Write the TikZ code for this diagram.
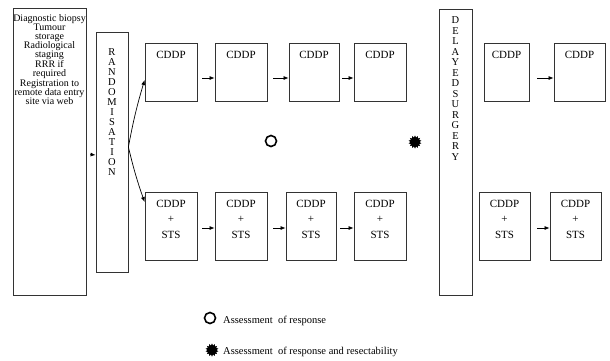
\documentclass[tikz,border=0pt]{standalone}
\usepackage{fontspec}
\setmainfont{Liberation Serif}
\usetikzlibrary{shapes.geometric, arrows.meta}

\begin{document}
\begin{tikzpicture}[x=1pt, y=-1pt]
		\tikzstyle {stage box} = [draw=black!80, line width=0.8pt, inner sep=0pt]
		\tikzstyle {box text} = [anchor=north, align=center, inner sep=0pt, font=\fontsize{11}{15.5}\selectfont]
		\tikzstyle {letter text} = [anchor=north, align=center, inner sep=0pt, font=\fontsize{10.5}{10.5}\selectfont]
		\tikzstyle {step arrow} = [-{Latex[length=5pt, width=4pt]}, line width=0.7pt]
		\tikzstyle {ring} = [circle, draw, line width=1.6pt, inner sep=0pt, minimum size=11pt]
		\tikzstyle {burst} = [star, star points=14, star point ratio=1.4, fill=black, inner sep=0pt, minimum size=13pt]

		\useasboundingbox (0,0) rectangle (610,360);

		% entry and randomisation
		\node[stage box, minimum width=73pt, minimum height=287pt,
			label={[anchor=north, align=center, inner sep=0pt, yshift=-6.5pt, font=\fontsize{10}{9.1}\selectfont]north:{Diagnostic biopsy\\Tumour\\storage\\Radiological\\staging\\RRR\ if\\required\\Registration to\\remote data entry\\site via web}}]
			(entry) at (49.5,151.5) {};
		\node[stage box, minimum width=32pt, minimum height=240pt,
			label={[letter text, yshift=-17pt, font=\fontsize{10.5}{10}\selectfont]north:{R\\A\\N\\D\\O\\M\\I\\S\\A\\T\\I\\O\\N}}]
			(rand) at (112,152) {};
		\node[stage box, minimum width=33pt, minimum height=286pt,
			label={[letter text, yshift=-8pt]north:{D\\E\\L\\A\\Y\\E\\D\\S\\U\\R\\G\\E\\R\\Y}}]
			(delay) at (455.5,152) {};

		% CDDP arm
		\node[stage box, minimum width=52pt, minimum height=58pt, label={[box text, yshift=-8pt]north:CDDP}] (a1) at (171,72) {};
		\node[stage box, minimum width=52pt, minimum height=58pt, label={[box text, yshift=-8pt]north:CDDP}] (a2) at (241,72) {};
		\node[stage box, minimum width=50pt, minimum height=58pt, label={[box text, yshift=-8pt]north:CDDP}] (a3) at (314,72) {};
		\node[stage box, minimum width=52pt, minimum height=58pt, label={[box text, yshift=-8pt]north:CDDP}] (a4) at (380,72) {};
		\node[stage box, minimum width=45pt, minimum height=58pt, label={[box text, yshift=-8pt]north:CDDP}] (a5) at (506.5,72) {};
		\node[stage box, minimum width=51pt, minimum height=58pt, label={[box text, yshift=-8pt]north:CDDP}] (a6) at (579.5,72) {};

		% CDDP + STS arm
		\node[stage box, minimum width=52pt, minimum height=68pt, label={[box text, yshift=-8pt]north:{CDDP\\+\\STS}}] (b1) at (171,226) {};
		\node[stage box, minimum width=52pt, minimum height=68pt, label={[box text, yshift=-8pt]north:{CDDP\\+\\STS}}] (b2) at (241,226) {};
		\node[stage box, minimum width=50pt, minimum height=68pt, label={[box text, yshift=-8pt]north:{CDDP\\+\\STS}}] (b3) at (311,226) {};
		\node[stage box, minimum width=52pt, minimum height=68pt, label={[box text, yshift=-8pt]north:{CDDP\\+\\STS}}] (b4) at (380,226) {};
		\node[stage box, minimum width=51pt, minimum height=68pt, label={[box text, yshift=-8pt]north:{CDDP\\+\\STS}}] (b5) at (504.5,226) {};
		\node[stage box, minimum width=51pt, minimum height=68pt, label={[box text, yshift=-8pt]north:{CDDP\\+\\STS}}] (b6) at (575.5,226) {};

		% assessment marks
		\node[ring] (resp) at (271,141) {};
		\node[burst] (resect) at (415,142) {};

		% arrows
		\draw[step arrow] ([xshift=4pt, yshift=-3pt]entry.east) -- ([yshift=-3pt]rand.west);
		\draw[step arrow] ([yshift=5pt]rand.east) to[bend left=3] ([yshift=-8pt]a1.west);
		\draw[step arrow] ([yshift=5pt]rand.east) to[bend right=3] ([yshift=24pt]b1.west);

		\draw[step arrow] ([xshift=5pt, yshift=-6pt]a1.east) -- ([yshift=-6pt]a2.west);
		\draw[step arrow] ([xshift=6pt, yshift=-6pt]a2.east) -- ([yshift=-6pt]a3.west);
		\draw[step arrow] ([xshift=3pt, yshift=-6pt]a3.east) -- ([yshift=-6pt]a4.west);
		\draw[step arrow] ([xshift=8pt, yshift=-6pt]a5.east) -- ([yshift=-6pt]a6.west);

		\draw[step arrow] ([xshift=5pt, yshift=-2pt]b1.east) -- ([yshift=-2pt]b2.west);
		\draw[step arrow] ([xshift=6pt, yshift=-2pt]b2.east) -- ([yshift=-2pt]b3.west);
		\draw[step arrow] ([xshift=4pt, yshift=-2pt]b3.east) -- ([yshift=-2pt]b4.west);
		\draw[step arrow] ([xshift=7pt, yshift=-2pt]b5.east) -- ([yshift=-2pt]b6.west);

		% key
		\node[ring] (key1) at (210,318) {};
		\node[anchor=west, inner sep=0pt, font=\fontsize{10.5}{12}\selectfont] (key1 text) at (223,321) {Assessment\ \ of response};
		\node[burst] (key2) at (212,350) {};
		\node[anchor=west, inner sep=0pt, font=\fontsize{10.5}{12}\selectfont] (key2 text) at (223,352) {Assessment\ \ of response\ and resectability};

	\end{tikzpicture}
\end{document}
